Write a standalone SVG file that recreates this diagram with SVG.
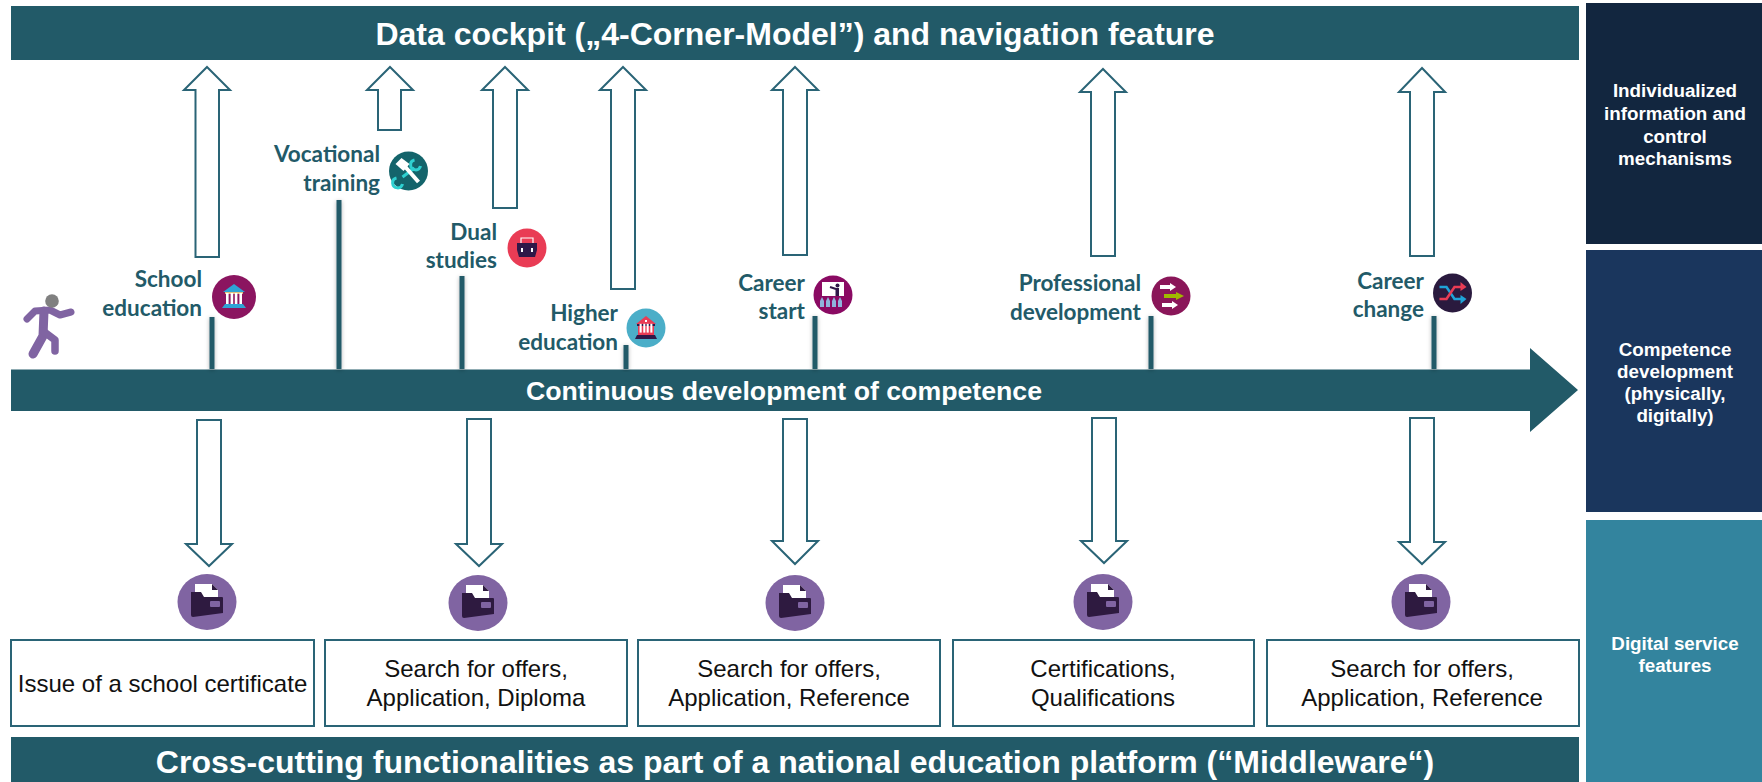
<svg xmlns="http://www.w3.org/2000/svg" width="1762" height="782" viewBox="0 0 1762 782">
<style>
.bar{fill:#225a68}
.hw{fill:#fff;stroke:#2a6476;stroke-width:2}
.box{fill:#fff;stroke:#2a6476;stroke-width:2}
.stem{fill:#225a68;filter:url(#sh)}
.tb{font-family:"Liberation Sans",Arial,sans-serif;font-weight:700;fill:#fff;text-anchor:middle}
.lab{font-family:Lato,"Liberation Sans",sans-serif;font-weight:700;font-size:22.500px;fill:#225a68;text-anchor:end}
.bt{font-family:"Liberation Sans",Arial,sans-serif;font-size:24px;fill:#111;text-anchor:middle}
.side{font-family:"Liberation Sans",Arial,sans-serif;font-weight:700;font-size:18.800px;fill:#fff;text-anchor:middle}
</style>
<defs>
<filter id="sh" x="-200%" y="-10%" width="500%" height="120%"><feDropShadow dx="0" dy="1" stdDeviation="2" flood-color="#000" flood-opacity=".3"/></filter>
<g id="folder">
<ellipse rx="29.500" ry="28" fill="#8064a2"/>
<path d="M-12-18H5L11-12V-4H-12Z" fill="#fff"/>
<path d="M5-18L11-12H5Z" fill="#2e1a40"/>
<path d="M-16-10H-6L-3-5H15Q16-5 16-4V11L-14 15Q-16 15-16 13Z" fill="#2e1a40"/>
<rect x="3" y="-1" width="10" height="6" rx="1" fill="#8064a2"/>
</g>
<g id="temple-cols">
<rect x="-8" y="-4" width="2.600" height="11"/><rect x="-3.400" y="-4" width="2.600" height="11"/><rect x=".8" y="-4" width="2.600" height="11"/><rect x="5.400" y="-4" width="2.600" height="11"/>
</g>
</defs>

<rect x="1586" y="3" width="176" height="241" fill="#12263f"/>
<rect x="1586" y="250" width="176" height="262" fill="#1a365d"/>
<rect x="1586" y="520" width="176" height="262" fill="#33849e"/>
<text class="side"><tspan x="1675" y="97">Individualized</tspan><tspan x="1675" y="120">information and</tspan><tspan x="1675" y="143">control</tspan><tspan x="1675" y="165">mechanisms</tspan></text>
<text class="side"><tspan x="1675" y="356">Competence</tspan><tspan x="1675" y="378">development</tspan><tspan x="1675" y="400">(physically,</tspan><tspan x="1675" y="422">digitally)</tspan></text>
<text class="side"><tspan x="1675" y="650">Digital service</tspan><tspan x="1675" y="672">features</tspan></text>

<g id="top-bar"><rect class="bar" x="11" y="6" width="1568" height="54"/><text class="tb" x="795" y="45" font-size="32">Data cockpit („4-Corner-Model”) and navigation feature</text></g>
<g id="timeline"><path class="bar" d="M11 369.500H1530V348L1578 390L1530 432V411H11Z"/><text class="tb" x="784" y="400" font-size="26.700">Continuous development of competence</text></g>
<g id="bottom-bar"><rect class="bar" x="11" y="737" width="1568" height="45"/><text class="tb" x="795" y="773" font-size="32">Cross-cutting functionalities as part of a national education platform (“Middleware“)</text></g>

<g id="connectors">
<path class="hw" d="M207 67L230 90H219V257H195.500V90H184Z"/>
<path class="hw" d="M390 67L413 90H401V130H378V90H367Z"/>
<path class="hw" d="M505 67L528 90H517V208H493V90H482Z"/>
<path class="hw" d="M623 67L646 90H635V289H611V90H600Z"/>
<path class="hw" d="M795 67L818 90H807V255H783V90H772Z"/>
<path class="hw" d="M1103 69L1126 92H1115V256H1091V92H1080Z"/>
<path class="hw" d="M1422 68L1445 92H1434V256H1410V92H1399Z"/>
<path class="hw" d="M197 420H221V544H232L209 566L186 544H197Z"/>
<path class="hw" d="M467 419H491V544H502L479 566L456 544H467Z"/>
<path class="hw" d="M783 419H807V541H818L795 564L772 541H783Z"/>
<path class="hw" d="M1092 418H1116V541H1127L1104 563L1081 541H1092Z"/>
<path class="hw" d="M1410 418H1434V542H1445L1422 564L1399 542H1410Z"/>
<rect class="stem" x="209.500" y="317" width="5" height="52"/>
<rect class="stem" x="336.500" y="200" width="5" height="169"/>
<rect class="stem" x="459.500" y="276" width="5" height="93"/>
<rect class="stem" x="623.500" y="345" width="5" height="24"/>
<rect class="stem" x="812.500" y="316" width="5" height="53"/>
<rect class="stem" x="1148.500" y="316" width="5" height="53"/>
<rect class="stem" x="1431.500" y="316" width="5" height="53"/>
</g>

<g id="person" fill="none" stroke="#8064a2" stroke-linecap="round" stroke-linejoin="round">
<path d="M27 319L35 311L50 310L60 315L71 312" stroke-width="7"/>
<path d="M44 311L43 336L33 354" stroke-width="9"/>
<path d="M43 331L55 340L55 351" stroke-width="7.500"/>
<circle cx="52" cy="301" r="6.800" fill="#808080" stroke="none"/>
</g>

<g id="school-education">
<text class="lab"><tspan x="202" y="287">School</tspan><tspan x="202" y="316">education</tspan></text>
<g transform="translate(234 297)"><circle r="22" fill="#8b1560"/>
<path d="M0-13L11-5H-11Z" fill="#2ea4d6"/><rect x="-9" y="-5" width="18" height="2" fill="#e0c080"/>
<use href="#temple-cols" fill="#fff"/>
<path d="M-9 7H9L12 11H-12Z" fill="#2ea4d6"/></g>
</g>

<g id="vocational-training">
<text class="lab"><tspan x="380" y="162">Vocational</tspan><tspan x="380" y="191">training</tspan></text>
<g transform="translate(408.500 171)"><circle r="19.500" fill="#14646b"/>
<g fill="none" stroke="#2fd0d0" stroke-width="3"><path d="M6-3L-6 6"/><path d="M6-11A5 5 0 1 0 12-5"/><path d="M-6 13A5 5 0 1 1-12 7"/></g>
<path d="M-4-5L10 11" stroke="#fff" stroke-width="4"/>
<path d="M-13-7L-7-13L1-7L-5 0Z" fill="#fff"/></g>
</g>

<g id="dual-studies">
<text class="lab"><tspan x="497" y="240">Dual</tspan><tspan x="497" y="268">studies</tspan></text>
<g transform="translate(527 248)"><circle r="19.500" fill="#e93c55"/>
<path d="M-6-5V-10H6V-5" fill="none" stroke="#fff" stroke-width="1.200"/>
<path d="M-10-5H10V2L8 9H-8L-10 2Z" fill="#2f1848"/>
<rect x="-6" y="0" width="2" height="4" fill="#fff"/><rect x="4" y="0" width="2" height="4" fill="#fff"/></g>
</g>

<g id="higher-education">
<text class="lab"><tspan x="618" y="321">Higher</tspan><tspan x="618" y="350">education</tspan></text>
<g transform="translate(646 328)"><circle r="19.500" fill="#4baec8"/>
<path d="M0-12L10-4H-10Z" fill="#e93c55"/><rect x="-1" y="-8" width="2" height="2" fill="#fff"/>
<rect x="-9" y="-4" width="18" height="2" fill="#2f1848"/>
<rect x="-8" y="-2" width="16" height="9" fill="#e93c55"/><use href="#temple-cols" fill="#fff" transform="translate(0 -1) scale(.8 .8)"/>
<path d="M-9 7H9L11 11H-11Z" fill="#2f1848"/></g>
</g>

<g id="career-start">
<text class="lab"><tspan x="805" y="291">Career</tspan><tspan x="805" y="319">start</tspan></text>
<g transform="translate(833 295)"><circle r="19.500" fill="#8a0a63"/>
<rect x="-11" y="-13" width="22" height="14" fill="#fff"/>
<path d="M-3-8L3-6" stroke="#2f1848" stroke-width="2" fill="none"/><rect x="2.500" y="-7" width="3.500" height="8" fill="#2f1848"/><circle cx="4.500" cy="-9.500" r="2" fill="#2f1848"/>
<g fill="#8fb4dc"><path d="M-13 12V6L-11 2L-9 6V12Z"/><path d="M-7 12V6L-5 2L-3 6V12Z"/><path d="M-1 12V6L1 2L3 6V12Z"/><path d="M5 12V6L7 2L9 6V12Z"/></g></g>
</g>

<g id="professional-development">
<text class="lab"><tspan x="1141" y="291">Professional</tspan><tspan x="1141" y="320">development</tspan></text>
<g transform="translate(1171 296)"><circle r="19.500" fill="#8a1659"/>
<path d="M-11-11H-1V-13L5-9L-1-5V-7H-11Z" fill="#fff"/>
<path d="M-7-2H5V-4L13 0L5 4V2H-7Z" fill="#a0b800"/>
<path d="M-9 7H1V5L7 9L1 13V11H-9Z" fill="#fff"/></g>
</g>

<g id="career-change">
<text class="lab"><tspan x="1424" y="289">Career</tspan><tspan x="1424" y="317">change</tspan></text>
<g transform="translate(1452.500 293)"><circle r="19.500" fill="#2a1a3e"/>
<path d="M-13-6H-6L2 6H9" fill="none" stroke="#1fa3d8" stroke-width="2.500"/><path d="M8 2L14 6L8 11Z" fill="#1fa3d8"/>
<path d="M-13 6H-6L2-6H9" fill="none" stroke="#e93c55" stroke-width="2.500"/><path d="M8-11L14-6L8-2Z" fill="#e93c55"/></g>
</g>

<g id="service-1"><use href="#folder" x="207" y="602"/><rect class="box" x="11" y="640" width="303" height="86"/><text class="bt" x="162.500" y="692">Issue of a school certificate</text></g>
<g id="service-2"><use href="#folder" x="478" y="603"/><rect class="box" x="325" y="640" width="302" height="86"/><text class="bt"><tspan x="476" y="677">Search for offers,</tspan><tspan x="476" y="706">Application, Diploma</tspan></text></g>
<g id="service-3"><use href="#folder" x="795" y="603"/><rect class="box" x="638" y="640" width="302" height="86"/><text class="bt"><tspan x="789" y="677">Search for offers,</tspan><tspan x="789" y="706">Application, Reference</tspan></text></g>
<g id="service-4"><use href="#folder" x="1103" y="602"/><rect class="box" x="953" y="640" width="301" height="86"/><text class="bt"><tspan x="1103" y="677">Certifications,</tspan><tspan x="1103" y="706">Qualifications</tspan></text></g>
<g id="service-5"><use href="#folder" x="1421" y="602"/><rect class="box" x="1267" y="640" width="312" height="86"/><text class="bt"><tspan x="1422" y="677">Search for offers,</tspan><tspan x="1422" y="706">Application, Reference</tspan></text></g>
</svg>
